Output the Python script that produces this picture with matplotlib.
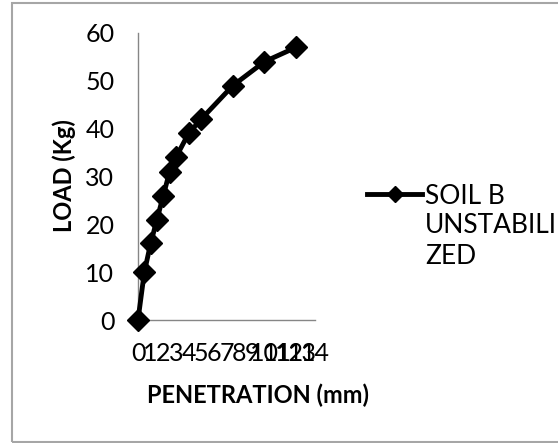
import matplotlib
matplotlib.use("Agg")
import matplotlib.pyplot as plt
from matplotlib.patches import Rectangle

# CBR test data
penetration = [0, 0.5, 1, 1.5, 2, 2.5, 3, 4, 5, 7.5, 10, 12.5]
load = [0, 10, 16, 21, 26, 31, 34, 39, 42, 49, 54, 57]
series_name = "SOIL B"
series_name_rest = "UNSTABILI\nZED"
x_ticks = list(range(0, 15))
y_ticks = list(range(0, 61, 10))

plt.rcParams['font.family'] = ['Lato', 'DejaVu Sans']

W, H = 558, 443
fig = plt.figure(figsize=(W / 100, H / 100), dpi=100)
ax = fig.add_axes([138 / W, 1 - 320 / H, 177 / W, 287 / H])

ax.plot(penetration, load, color="black", lw=3.5, marker="D", markersize=11,
        clip_on=False, label=series_name, zorder=3)

ax.set_xlim(0, 14)
ax.set_ylim(0, 60)
ax.set_xticks(x_ticks)
ax.set_yticks(y_ticks)
ax.tick_params(length=0, labelsize=18)
ax.tick_params(axis="x", pad=16)
ax.tick_params(axis="y", pad=17)

for side in ["top", "right"]:
    ax.spines[side].set_visible(False)
for side in ["left", "bottom"]:
    ax.spines[side].set_color("#868686")
    ax.spines[side].set_linewidth(1)

ax.set_xlabel("PENETRATION (mm)", fontsize=17, fontweight="bold")
ax.xaxis.set_label_coords((258 - 138) / 177, (320 - 395) / 287)
ax.xaxis.label.set_va("center")
ax.set_ylabel("LOAD (Kg)", fontsize=17, fontweight="bold")
ax.yaxis.set_label_coords((64 - 138) / 177, (320 - 176) / 287)
ax.yaxis.label.set_va("center")

leg = ax.legend(loc="center left", bbox_to_anchor=(367 / W, 1 - 196 / H),
                bbox_transform=fig.transFigure, frameon=False, fontsize=19,
                handlelength=2.1, handletextpad=0.1, markerscale=0.75,
                borderaxespad=0, borderpad=0)

# rest of the wrapped legend entry, under the first line
fig.canvas.draw()
tb = leg.get_texts()[0].get_window_extent()
fig.text(tb.x0 / W, (tb.y0 - 4) / H, series_name_rest, fontsize=19,
         ha="left", va="top", linespacing=1.35)

# outer chart border
fig.add_artist(Rectangle((12 / W, 1 - 442 / H), (W - 10) / W, 439 / H,
                         transform=fig.transFigure, fill=False,
                         ec="#a6a6a6", lw=1.5))

fig.savefig("out.png", dpi=100)
